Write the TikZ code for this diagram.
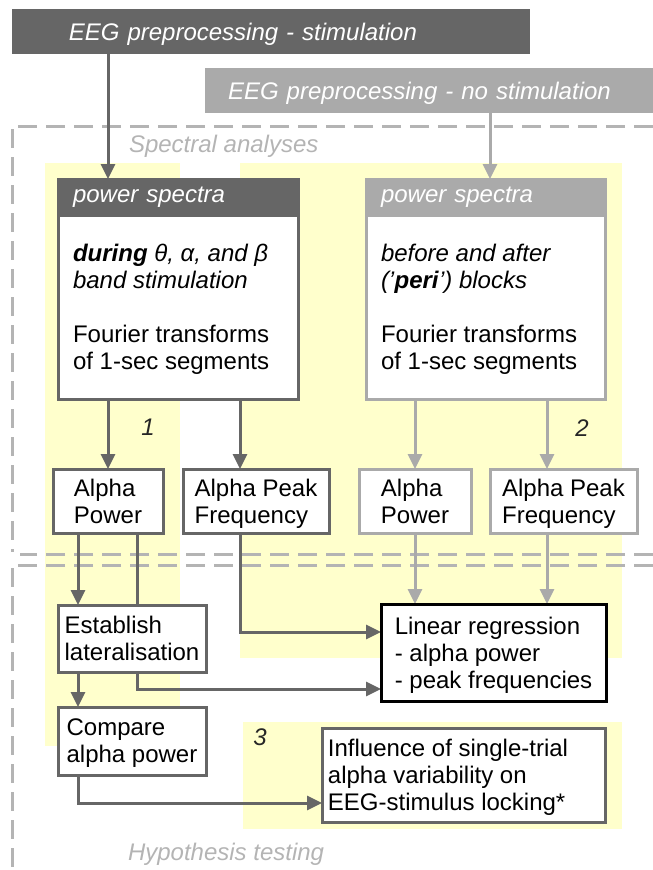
\documentclass[tikz,border=0pt]{standalone}
\usepackage{fontspec}
\setmainfont{Liberation Sans}
\usetikzlibrary{arrows.meta,calc}
\definecolor{dk}{HTML}{666666}
\definecolor{lt}{HTML}{AAAAAA}
\definecolor{dsh}{HTML}{B4B4B4}
\definecolor{yel}{HTML}{FFFFCC}
\pgfdeclarelayer{yellow}
\pgfdeclarelayer{lines}
\pgfsetlayers{yellow,lines,main}
\begin{document}
\begin{tikzpicture}[x=1pt,y=-1pt,
  every node/.style={font=\fontsize{24}{27}\selectfont, inner sep=0pt, outer sep=0pt},
  box/.style={draw, line width=3pt, fill=white, align=left, text depth=0pt},
  dbox/.style={box, draw=dk},
  lbox/.style={box, draw=lt},
  darr/.style={draw=dk, line width=3pt, -{Triangle[width=14pt,length=15pt]}},
  larr/.style={draw=lt, line width=3pt, -{Triangle[width=14pt,length=15pt]}},
  frame/.style={draw=dsh, line width=3pt, dash pattern=on 19pt off 9pt},
  lab/.style={font=\fontsize{24}{27}\selectfont\itshape, text=black!85},
  grey/.style={font=\fontsize{24}{27}\selectfont\itshape, text=dsh, anchor=west},
  srcbox/.style={minimum height=45pt, align=left, text=white, text depth=0pt,
      font=\fontsize{24}{27}\selectfont\itshape},
  headbox/.style={line width=3pt, anchor=north, minimum height=36pt, inner xsep=15pt,
      align=left, text=white, font=\fontsize{24}{27}\selectfont\itshape},
]
\useasboundingbox (0,0) rectangle (653,870);

% top source boxes
\node[srcbox, fill=dk, minimum width=518pt, text width=404pt, inner xsep=57pt] (eegS) at (270.85,31.75)
      {EEG preprocessing - stimulation};
\node[srcbox, fill=lt, minimum width=455pt, text width=409pt, inner xsep=23pt] (eegN) at (432.5,90.5)
      {EEG preprocessing - no stimulation};

% power spectra boxes
\node[dbox, minimum width=240pt, minimum height=220pt] (psL) at (178,289) {};
\node[headbox, fill=dk, draw=dk, minimum width=240pt, text width=210pt] (psLh) at (psL.north) {power spectra};
\node[align=left, anchor=north west] (psLt) at (73,243.7)
      {\textbf{\textit{during}} \textit{θ, α, and β}\\ \textit{band stimulation}\\[27pt]
       Fourier transforms\\ of 1-sec segments};

\node[lbox, minimum width=239pt, minimum height=220pt] (psR) at (485.5,289) {};
\node[headbox, fill=lt, draw=lt, minimum width=239pt, text width=209pt] (psRh) at (psR.north) {power spectra};
\node[align=left, anchor=north west] (psRt) at (381,243.7)
      {\textit{before and after}\\ \textit{(’}\textbf{\textit{peri}}\textit{’) blocks}\\[27pt]
       Fourier transforms\\ of 1-sec segments};

% measure boxes
\node[dbox, minimum width=110pt, minimum height=64pt] (apL) at (108,501) {Alpha\\Power};
\node[dbox, minimum width=146pt, minimum height=64pt] (apfL) at (256,501) {Alpha Peak\\Frequency};
\node[lbox, minimum width=112pt, minimum height=64pt] (apR) at (415,501) {Alpha\\Power};
\node[lbox, minimum width=147pt, minimum height=64pt] (apfR) at (563.5,501) {Alpha Peak\\Frequency};

% hypothesis boxes
\node[dbox, minimum width=148pt, minimum height=67pt] (estab) at (132,638.5) {Establish\\lateralisation};
\node[dbox, minimum width=148pt, minimum height=68pt] (compare) at (132,741) {Compare\\alpha power};
\node[box, draw=black, minimum width=225pt, minimum height=97pt] (linreg) at (493.5,652.5)
      {Linear regression\\- alpha power\\- peak frequencies};
\node[dbox, minimum width=283pt, minimum height=94pt] (influ) at (463.5,775)
      {Influence of single-trial\hspace*{31pt}\\alpha variability on\\EEG-stimulus locking*};

% labels
\node[lab] (n1) at (148,427) {1};
\node[lab] (n2) at (582,428) {2};
\node[lab] (n3) at (260,737) {3};
\node[grey] (spec) at (129,146) {Spectral analyses};
\node[grey] (hyp) at (128,854) {Hypothesis testing};

% background
\begin{pgfonlayer}{yellow}
  \fill[yel] (45,163) rectangle (180,746);
  \fill[yel] (240,163) rectangle (622,658);
  \fill[yel] (243,722) rectangle (622,829);
  \draw[frame] (653,126) -- (12,126) -- (12,552);
  \draw[frame] (653,554) -- (20,554);
  \draw[frame] (653,565) -- (12,565) -- (12,872);
\end{pgfonlayer}

% connectors
\coordinate (xA) at (240,0);
\coordinate (xR) at (490,0);
\coordinate (xD) at (547,0);
\coordinate (xE) at (78,0);
\coordinate (xF) at (137,0);
\begin{pgfonlayer}{lines}
  \draw[darr] (eegS.south -| apL) -- (psL.north -| apL);
  \draw[larr] (eegN.south -| xR) -- (psR.north -| xR);
  \draw[darr] (psL.south -| apL) -- (apL.north);
  \draw[darr] (psL.south -| xA) -- (apfL.north -| xA);
  \draw[larr] (psR.south -| apR) -- (apR.north);
  \draw[larr] (psR.south -| xD) -- (apfR.north -| xD);
  \draw[darr] (apL.south -| xE) -- (estab.north -| xE);
  \draw[darr] (apL.south -| xF) |- ($(linreg.west)+(0,36.5)$);
  \draw[darr] (apfL.south -| xA) |- ($(linreg.west)+(0,-20.5)$);
  \draw[larr] (apR.south) -- (linreg.north -| apR);
  \draw[larr] (apfR.south -| xD) -- (linreg.north -| xD);
  \draw[darr] (estab.south -| xE) -- (compare.north -| xE);
  \draw[darr] (compare.south -| xE) |- ($(influ.west)+(0,28)$);
\end{pgfonlayer}
\end{tikzpicture}
\end{document}
